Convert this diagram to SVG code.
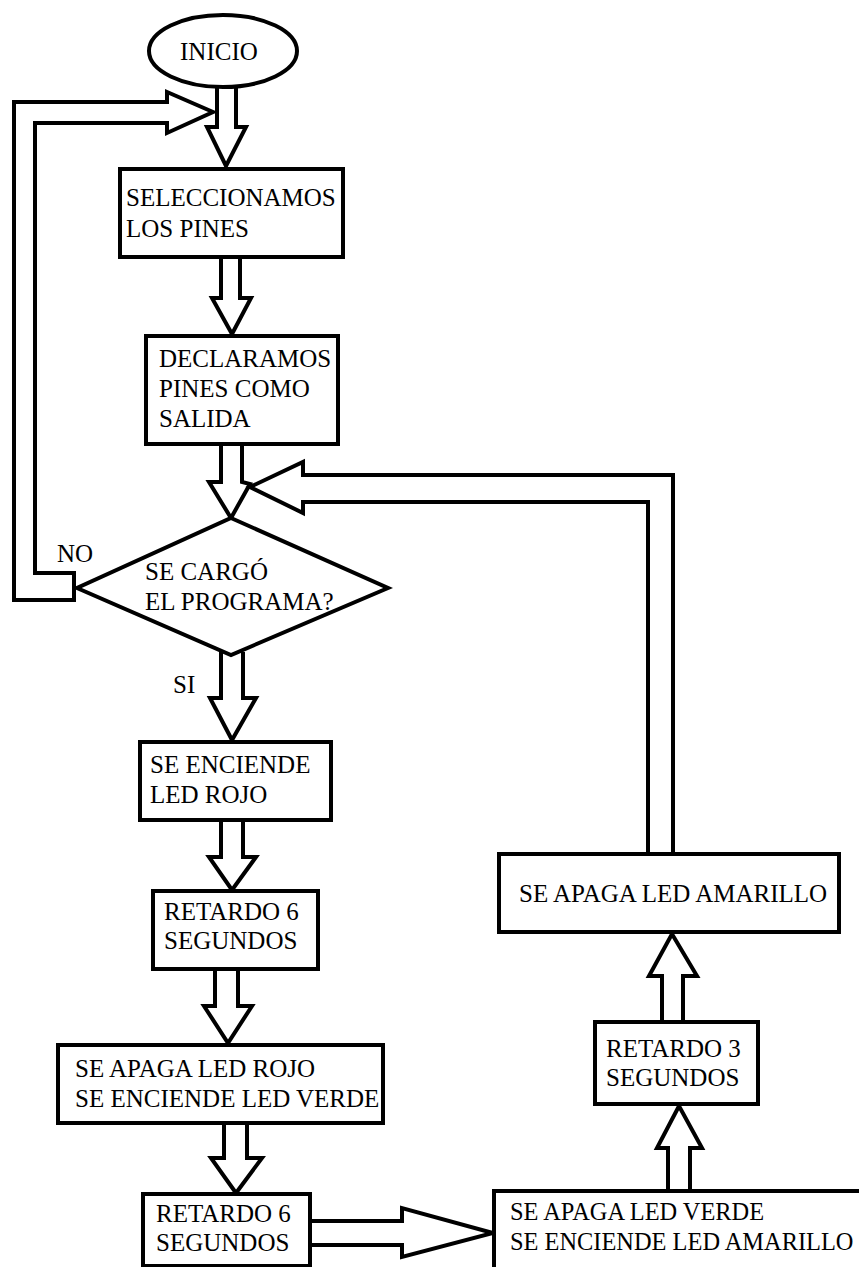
<svg xmlns="http://www.w3.org/2000/svg" width="859" height="1267" viewBox="0 0 859 1267">
  <style>
    .box { fill: #fff; stroke: #000; stroke-width: 4; }
    .arrow { fill: none; stroke: #000; stroke-width: 4; stroke-linejoin: miter; }
    text { font-family: "Liberation Serif", "Times New Roman", serif; font-size: 25px; fill: #000; }
    .tight { font-size: 24.4px; }
  </style>
  <rect width="859" height="1267" fill="#fff"/>

  <!-- block-arrow connectors -->
  <g id="connectors">
    <!-- INICIO to SELECCIONAMOS -->
    <polyline class="arrow" points="217,84 217,127 207,127 226,166 246,127 236,127 236,84"/>
    <!-- NO branch returning to the top -->
    <polygon class="arrow" points="74,588 74,600 14,600 14,102 167,102 167,92 213,112 167,133 167,123 35,123 35,573 74,573"/>
    <!-- SELECCIONAMOS to DECLARAMOS -->
    <polyline class="arrow" points="221,257 221,298 212,298 232,334 251,298 240,298 240,257"/>
    <!-- DECLARAMOS to decision -->
    <polyline class="arrow" points="221,444 221,482 209,482 231,518 250,484 242,482 242,444"/>
    <!-- loop back from SE APAGA LED AMARILLO -->
    <polyline class="arrow" points="648,853 648,502 303,502 303,513 250,487 303,462 303,475 673,475 673,853"/>
    <!-- SI branch -->
    <polyline class="arrow" points="221,652 221,698 210,698 232,740 256,698 243,698 243,652"/>
    <!-- SE ENCIENDE LED ROJO to RETARDO 6 -->
    <polyline class="arrow" points="221,820 221,857 209,857 232,890 256,857 243,857 243,820"/>
    <!-- RETARDO 6 to SE APAGA LED ROJO -->
    <polyline class="arrow" points="215,969 215,1006 204,1006 228,1043 252,1006 238,1006 238,969"/>
    <!-- SE APAGA LED ROJO to RETARDO 6 -->
    <polyline class="arrow" points="224,1123 224,1158 211,1158 236,1193 262,1158 247,1158 247,1123"/>
    <!-- RETARDO 6 to SE APAGA LED VERDE -->
    <polyline class="arrow" points="310,1221 402,1221 402,1208 493,1233 402,1257 402,1245 310,1245"/>
    <!-- SE APAGA LED VERDE to RETARDO 3 -->
    <polyline class="arrow" points="668,1191 668,1148 657,1148 679,1106 702,1148 690,1148 690,1191"/>
    <!-- RETARDO 3 to SE APAGA LED AMARILLO -->
    <polyline class="arrow" points="662,1021 662,976 649,976 672,934 697,976 683,976 683,1021"/>
  </g>

  <g id="inicio">
    <ellipse class="box" cx="223" cy="51" rx="74" ry="36"/>
    <text x="180" y="60">INICIO</text>
  </g>

  <g id="seleccionamos">
    <rect class="box" x="120" y="169" width="223" height="88"/>
    <text x="126" y="206">SELECCIONAMOS</text>
    <text x="126" y="237">LOS PINES</text>
  </g>

  <g id="declaramos">
    <rect class="box" x="146" y="336" width="192" height="108"/>
    <text x="159" y="367">DECLARAMOS</text>
    <text x="159" y="397">PINES COMO</text>
    <text x="159" y="427">SALIDA</text>
  </g>

  <g id="decision">
    <polygon class="box" points="231,518 388,588 231,655 77,588"/>
    <text x="145" y="580">SE CARGÓ</text>
    <text x="145" y="610">EL PROGRAMA?</text>
  </g>
  <text x="57" y="562">NO</text>
  <text x="173" y="693">SI</text>

  <g id="enciende-rojo">
    <rect class="box" x="140" y="742" width="191" height="78"/>
    <text x="150" y="773">SE ENCIENDE</text>
    <text x="150" y="803">LED ROJO</text>
  </g>

  <g id="retardo-6a">
    <rect class="box" x="153" y="891" width="165" height="78"/>
    <text x="164" y="920">RETARDO 6</text>
    <text x="164" y="949">SEGUNDOS</text>
  </g>

  <g id="apaga-rojo">
    <rect class="box" x="58" y="1045" width="325" height="78"/>
    <text x="75" y="1077">SE APAGA LED ROJO</text>
    <text x="75" y="1107">SE ENCIENDE LED VERDE</text>
  </g>

  <g id="retardo-6b">
    <rect class="box" x="143" y="1194" width="167" height="72"/>
    <text x="156" y="1222">RETARDO 6</text>
    <text x="156" y="1251">SEGUNDOS</text>
  </g>

  <g id="apaga-verde">
    <rect class="box" x="494" y="1191" width="380" height="90"/>
    <text class="tight" x="510" y="1220">SE APAGA LED VERDE</text>
    <text class="tight" x="510" y="1250">SE ENCIENDE LED AMARILLO</text>
  </g>

  <g id="retardo-3">
    <rect class="box" x="595" y="1022" width="163" height="82"/>
    <text x="606" y="1057">RETARDO 3</text>
    <text x="606" y="1086">SEGUNDOS</text>
  </g>

  <g id="apaga-amarillo">
    <rect class="box" x="499" y="854" width="340" height="78"/>
    <text x="519" y="902">SE APAGA LED AMARILLO</text>
  </g>
</svg>
